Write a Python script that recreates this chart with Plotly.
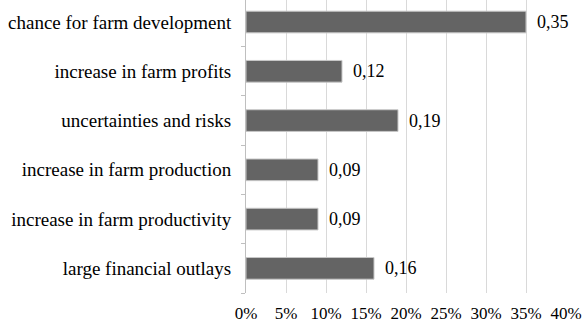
import plotly.graph_objects as go

# Categories listed bottom-to-top
categories = [
    "large financial outlays",
    "increase in farm productivity",
    "increase in farm production",
    "uncertainties and risks",
    "increase in farm profits",
    "chance for farm development",
]
values = [0.16, 0.09, 0.09, 0.19, 0.12, 0.35]
x_ticks = [0, 0.05, 0.10, 0.15, 0.20, 0.25, 0.30, 0.35, 0.40]

FONT = "Times New Roman, Liberation Serif, DejaVu Serif, serif"

fig = go.Figure()
fig.add_trace(go.Bar(
    x=values,
    y=categories,
    orientation="h",
    width=0.44,
    marker=dict(color="#646464", line=dict(color="#c8c8c8", width=1)),
    hoverinfo="skip",
))

for v, c in zip(values, categories):
    fig.add_annotation(
        x=v, y=c, text=f"{v:.2f}".replace(".", ","),
        showarrow=False, xanchor="left", yanchor="middle", xshift=9,
        font=dict(family=FONT, size=18, color="#000000"),
    )

fig.update_layout(
    width=583, height=322,
    margin=dict(l=246, r=17, t=0, b=29, pad=0),
    paper_bgcolor="white", plot_bgcolor="white",
    showlegend=False,
    separators=",.",
    font=dict(family=FONT, color="#000000"),
    bargap=0.5,
)
fig.update_xaxes(
    range=[0, 0.4],
    tickvals=x_ticks,
    tickformat=".0%",
    showgrid=True, gridcolor="#d9d9d9", gridwidth=1,
    zeroline=False, showline=False,
    ticks="", ticklabelstandoff=8, automargin=False,
    tickfont=dict(family=FONT, size=17, color="#000000"),
)
fig.update_yaxes(
    type="category",
    categoryorder="array", categoryarray=categories,
    range=[-0.5, 5.447],
    showgrid=False, zeroline=False,
    showline=True, linecolor="#bfbfbf", linewidth=1,
    ticks="outside", tickson="boundaries", ticklen=4, tickcolor="#bfbfbf",
    ticklabelstandoff=10, automargin=False,
    tickfont=dict(family=FONT, size=19, color="#000000"),
)

fig.write_html("out.html")
